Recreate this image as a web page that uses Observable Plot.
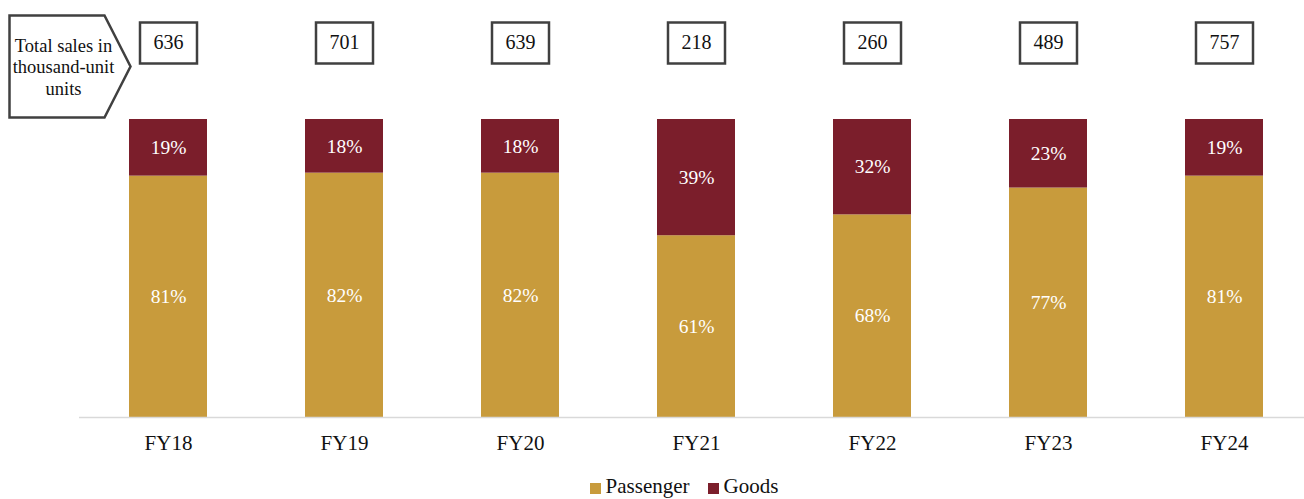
<!DOCTYPE html>
<html>
<head>
<meta charset="utf-8">
<script src="https://cdn.jsdelivr.net/npm/d3@7"></script>
<script src="https://cdn.jsdelivr.net/npm/@observablehq/plot@0.6"></script>
<style>
  html, body { margin: 0; padding: 0; background: #fff; }
  body { width: 1304px; height: 499px; overflow: hidden; font-family: "Liberation Serif", "Times New Roman", serif; }
  #legend { display: flex; justify-content: center; gap: 18px; margin-left: 64px; padding-top: 4px; font-size: 21px; line-height: 24px; color: #111; }
  #legend span.item { display: inline-flex; align-items: center; gap: 5px; }
  #legend span.sw { width: 11px; height: 11px; display: inline-block; margin-top: 4px; }
</style>
</head>
<body>
<div id="chart"></div>
<div id="legend"></div>
<script>
const categories = ["FY18", "FY19", "FY20", "FY21", "FY22", "FY23", "FY24"];
const passenger = [81, 82, 82, 61, 68, 77, 81];
const goods = [19, 18, 18, 39, 32, 23, 19];
const totals = [636, 701, 639, 218, 260, 489, 757];
const seriesNames = ["Passenger", "Goods"];
const seriesColors = ["#C89B3C", "#7B1E2B"];
const annotation = "Total sales in\nthousand-unit\nunits";

const rows = [];
categories.forEach((c, i) => {
  rows.push({cat: c, series: "Passenger", value: passenger[i]});
  rows.push({cat: c, series: "Goods", value: goods[i]});
});
const totalRows = categories.map((c, i) => ({cat: c, total: totals[i]}));

const boxSymbol = { draw(ctx) { ctx.rect(-28.5, -20.5, 57, 41); } };
const pentagonSymbol = { draw(ctx) {
  ctx.moveTo(-51, -51); ctx.lineTo(44, -51); ctx.lineTo(70, 0); ctx.lineTo(44, 51); ctx.lineTo(-51, 51); ctx.closePath();
} };

const font = "Liberation Serif, Times New Roman, serif";

const chart = Plot.plot({
  width: 1304,
  height: 470,
  marginTop: 0,
  marginBottom: 53,
  marginLeft: 79,
  marginRight: 0,
  style: { fontFamily: font, background: "#fff", overflow: "visible" },
  x: { domain: categories, range: [79, 1313], paddingInner: 0.557, paddingOuter: 0.2785, axis: null },
  y: { domain: [0, 100], range: [417, 119], axis: null },
  color: { domain: seriesNames, range: seriesColors },
  marks: [
    Plot.barY(rows, Plot.stackY({x: "cat", y: "value", fill: "series", order: seriesNames})),
    Plot.text(rows, Plot.stackY({x: "cat", y: "value", z: "series", order: seriesNames, text: d => d.value + "%", fill: "white", fontSize: 19.5, fontFamily: font})),
    Plot.ruleY([0], {stroke: "#d9d9d9", strokeWidth: 1.5}),
    Plot.text(categories, {x: d => d, y: 0, dy: 26, text: d => d, fontSize: 21, fill: "#111", fontFamily: font}),
    Plot.dot(totalRows, {x: "cat", frameAnchor: "top", dy: 42.5, symbol: boxSymbol, fill: "white", stroke: "#404040", strokeWidth: 2.5}),
    Plot.text(totalRows, {x: "cat", frameAnchor: "top", lineAnchor: "middle", dy: 42.5, text: d => String(d.total), fontSize: 20, fill: "#111", fontFamily: font}),
    Plot.dot([annotation], {frameAnchor: "top-left", dx: 60 - 79, dy: 66, symbol: pentagonSymbol, fill: "white", stroke: "#404040", strokeWidth: 2.5}),
    Plot.text([annotation], {frameAnchor: "top-left", lineAnchor: "middle", dx: 63 - 79, dy: 66, text: d => d, lineHeight: 1.17, fontSize: 18.5, fill: "#111", fontFamily: font, textAnchor: "middle"})
  ]
});
document.getElementById("chart").appendChild(chart);

const legend = document.getElementById("legend");
seriesNames.forEach((n, i) => {
  const item = document.createElement("span");
  item.className = "item";
  const sw = document.createElement("span");
  sw.className = "sw";
  sw.style.background = seriesColors[i];
  item.appendChild(sw);
  item.appendChild(document.createTextNode(n));
  legend.appendChild(item);
});
</script>
</body>
</html>
